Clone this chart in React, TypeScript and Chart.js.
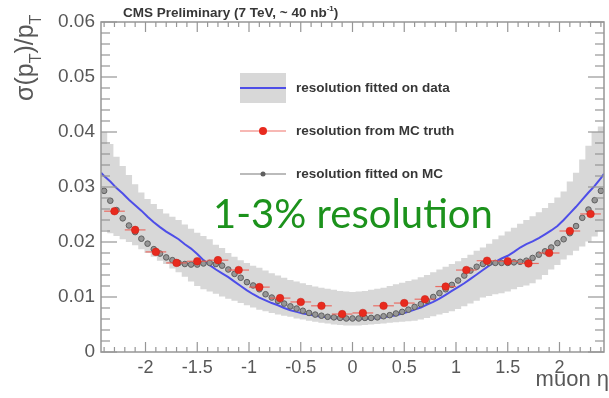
import React, { useEffect, useRef } from "react";
import { Chart, registerables } from "chart.js";

Chart.register(...registerables);

// pseudorapidity range of the frame and binning of the fitted curves
const ETA_MIN = -2.43;
const ETA_MAX = 2.43;
const ETA_STEP = 0.06;
const etaBins: number[] = Array.from({ length: 81 }, (_, i) => +(-2.4 + ETA_STEP * i).toFixed(2));

// resolution fitted on data: upper / lower edge of the uncertainty band
const dataBandHigh = [
  0.0400, 0.0378, 0.0355, 0.0338, 0.0322, 0.0305, 0.0290, 0.0278, 0.0269, 0.0260,
  0.0252, 0.0246, 0.0240, 0.0232, 0.0224, 0.0217, 0.0211, 0.0205, 0.0195, 0.0189,
  0.0180, 0.0173, 0.0167, 0.0162, 0.0157, 0.0153, 0.0148, 0.0143, 0.0139, 0.0135,
  0.0131, 0.0128, 0.0125, 0.0122, 0.0119, 0.0117, 0.0115, 0.0113, 0.0111, 0.0110,
  0.0109,
  0.0110, 0.0111, 0.0113, 0.0115, 0.0117, 0.0120, 0.0123, 0.0126, 0.0129, 0.0132,
  0.0136, 0.0140, 0.0145, 0.0150, 0.0155, 0.0160, 0.0165, 0.0171, 0.0177, 0.0184,
  0.0190, 0.0197, 0.0205, 0.0212, 0.0219, 0.0226, 0.0233, 0.0240, 0.0247, 0.0254,
  0.0262, 0.0271, 0.0281, 0.0292, 0.0310, 0.0326, 0.0350, 0.0375, 0.0400, 0.0410,
];
const dataBandLow = [
  0.0222, 0.0216, 0.0211, 0.0205, 0.0200, 0.0194, 0.0187, 0.0180, 0.0173, 0.0166,
  0.0160, 0.0152, 0.0145, 0.0137, 0.0128, 0.0120, 0.0114, 0.0110, 0.0106, 0.0101,
  0.0097, 0.0093, 0.0089, 0.0085, 0.0081, 0.0077, 0.0074, 0.0071, 0.0068, 0.0066,
  0.0064, 0.0061, 0.0059, 0.0057, 0.0055, 0.0053, 0.0052, 0.0050, 0.0049, 0.0048,
  0.0048,
  0.0048, 0.0049, 0.0050, 0.0051, 0.0052, 0.0053, 0.0054, 0.0055, 0.0056, 0.0057,
  0.0059, 0.0062, 0.0065, 0.0068, 0.0071, 0.0074, 0.0078, 0.0083, 0.0088, 0.0093,
  0.0099, 0.0102, 0.0105, 0.0107, 0.0110, 0.0114, 0.0118, 0.0121, 0.0125, 0.0132,
  0.0140, 0.0150, 0.0158, 0.0168, 0.0176, 0.0184, 0.0192, 0.0201, 0.0210, 0.0220,
];

// resolution fitted on data: central curve (plus its values at the frame edges)
const dataFit = [
  0.0320, 0.0310, 0.0298, 0.0288, 0.0277, 0.0267, 0.0257, 0.0246, 0.0236, 0.0227,
  0.0219, 0.0212, 0.0205, 0.0196, 0.0188, 0.0178, 0.0167, 0.0158, 0.0150, 0.0143,
  0.0136, 0.0128, 0.0120, 0.0112, 0.0105, 0.0099, 0.0094, 0.0089, 0.0085, 0.0080,
  0.0076, 0.0073, 0.0070, 0.0068, 0.0066, 0.0064, 0.0063, 0.0062, 0.0061, 0.0060,
  0.0060,
  0.0060, 0.0060, 0.0061, 0.0062, 0.0063, 0.0065, 0.0067, 0.0070, 0.0073, 0.0077,
  0.0081, 0.0086, 0.0091, 0.0097, 0.0104, 0.0111, 0.0118, 0.0125, 0.0133, 0.0141,
  0.0149, 0.0157, 0.0164, 0.0170, 0.0175, 0.0182, 0.0190, 0.0196, 0.0201, 0.0207,
  0.0214, 0.0221, 0.0229, 0.0240, 0.0252, 0.0264, 0.0277, 0.0290, 0.0302, 0.0316,
];
const dataFitEdges = [0.0326, 0.0324];

// resolution fitted on MC
const mcFit = [
  0.0293, 0.0275, 0.0258, 0.0243, 0.0230, 0.0218, 0.0206, 0.0197, 0.0187, 0.0179,
  0.0172, 0.0167, 0.0162, 0.0160, 0.0159, 0.0159, 0.0161, 0.0162, 0.0160, 0.0157,
  0.0150, 0.0142, 0.0135, 0.0127, 0.0121, 0.0114, 0.0105, 0.0099, 0.0093, 0.0088,
  0.0083, 0.0079, 0.0075, 0.0071, 0.0068, 0.0066, 0.0064, 0.0063, 0.0062, 0.0061,
  0.0061,
  0.0061, 0.0062, 0.0062, 0.0063, 0.0065, 0.0067, 0.0070, 0.0073, 0.0077, 0.0082,
  0.0087, 0.0093, 0.0100, 0.0107, 0.0114, 0.0122, 0.0130, 0.0139, 0.0148, 0.0155,
  0.0160, 0.0162, 0.0162, 0.0162, 0.0162, 0.0163, 0.0164, 0.0166, 0.0171, 0.0177,
  0.0183, 0.0190, 0.0198, 0.0205, 0.0216, 0.0229, 0.0244, 0.0259, 0.0276, 0.0293,
];

// resolution from MC truth, in eta slices of width 0.2
const truthEta = [
  -2.3, -2.1, -1.9, -1.7, -1.5, -1.3, -1.1, -0.9, -0.7, -0.5, -0.3, -0.1,
  0.1, 0.3, 0.5, 0.7, 0.9, 1.1, 1.3, 1.5, 1.7, 1.9, 2.1, 2.3,
];
const truthRes = [
  0.0256, 0.0222, 0.0182, 0.0162, 0.0165, 0.0167, 0.0149, 0.0118, 0.0098, 0.0091, 0.0084, 0.0069,
  0.0071, 0.0084, 0.0089, 0.0096, 0.0119, 0.0149, 0.0166, 0.0165, 0.0161, 0.0180, 0.0220, 0.0251,
];
const truthHalfWidth = 0.1;

const xTickLabels = ["-2", "-1.5", "-1", "-0.5", "0", "0.5", "1", "1.5", "2"];
const yTickLabels = ["0", "0.01", "0.02", "0.03", "0.04", "0.05", "0.06"];
const legendLabels = ["resolution fitted on data", "resolution from MC truth", "resolution fitted on MC"];

const BAND = "rgb(216,216,216)";
const BLUE = "rgb(78,78,232)";
const RED = "rgb(232,42,30)";
const RED_BAR = "rgba(236,90,80,0.85)";
const GRAY_DOT = "rgb(150,150,150)";
const GRAY_EDGE = "rgb(95,95,95)";
const AXIS = "rgb(150,150,150)";
const LABEL = "rgb(88,88,88)";
const TEXT = "rgb(55,55,55)";
const GREEN = "rgb(28,146,28)";
const SANS = "'Liberation Sans', Arial, sans-serif";

function binOutline(centers: number[], values: number[]) {
  const pts: { x: number; y: number }[] = [];
  centers.forEach((c, i) => {
    pts.push({ x: c - ETA_STEP / 2, y: values[i] });
    pts.push({ x: c + ETA_STEP / 2, y: values[i] });
  });
  return pts;
}

const TRUTH_INDEX = 4;

const errorBars = {
  id: "errorBars",
  beforeDatasetDraw(chart: any, args: any) {
    if (args.index !== TRUTH_INDEX) return;
    const { ctx, scales } = chart;
    ctx.save();
    ctx.strokeStyle = RED_BAR;
    ctx.lineWidth = 1.2;
    truthEta.forEach((e, i) => {
      const py = scales.y.getPixelForValue(truthRes[i]);
      ctx.beginPath();
      ctx.moveTo(scales.x.getPixelForValue(e - truthHalfWidth), py);
      ctx.lineTo(scales.x.getPixelForValue(e + truthHalfWidth), py);
      ctx.stroke();
    });
    ctx.restore();
  },
};

function seg(ctx: CanvasRenderingContext2D, x1: number, y1: number, x2: number, y2: number) {
  ctx.beginPath();
  ctx.moveTo(x1, y1);
  ctx.lineTo(x2, y2);
  ctx.stroke();
}

const decorations = {
  id: "decorations",
  afterDatasetsDraw(chart: any) {
    const { ctx, chartArea: a, scales } = chart;
    const xs = scales.x;
    const ys = scales.y;
    ctx.save();

    // frame with inward ticks on all four sides
    ctx.strokeStyle = AXIS;
    ctx.lineWidth = 1.5;
    ctx.strokeRect(a.left, a.top, a.right - a.left, a.bottom - a.top);
    ctx.lineWidth = 1.2;
    for (let k = 0; k <= 30; k++) {
      const py = ys.getPixelForValue(k * 0.002);
      const len = k % 5 === 0 ? 16 : 9;
      seg(ctx, a.left, py, a.left + len, py);
      seg(ctx, a.right, py, a.right - len, py);
    }
    for (let k = -24; k <= 24; k++) {
      const px = xs.getPixelForValue(k / 10);
      const len = k % 5 === 0 ? 10 : 5;
      seg(ctx, px, a.bottom, px, a.bottom - len);
      seg(ctx, px, a.top, px, a.top + len);
    }

    // tick labels
    ctx.fillStyle = LABEL;
    ctx.font = `19px ${SANS}`;
    ctx.textAlign = "right";
    ctx.textBaseline = "middle";
    yTickLabels.forEach((t) => ctx.fillText(t, a.left - 6, ys.getPixelForValue(parseFloat(t))));
    ctx.font = `18px ${SANS}`;
    ctx.textAlign = "center";
    ctx.textBaseline = "top";
    xTickLabels.forEach((t) => ctx.fillText(t, xs.getPixelForValue(parseFloat(t)), a.bottom + 7));

    // axis titles
    ctx.textAlign = "right";
    ctx.textBaseline = "alphabetic";
    ctx.font = `22px ${SANS}`;
    ctx.fillStyle = LABEL;
    ctx.fillText("muon η", 609, 386);

    ctx.save();
    ctx.translate(33, 101);
    ctx.rotate(-Math.PI / 2);
    ctx.textAlign = "left";
    let cx = 0;
    const part = (s: string, size: number, dy: number) => {
      ctx.font = `${size}px ${SANS}`;
      ctx.fillText(s, cx, dy);
      cx += ctx.measureText(s).width;
    };
    part("σ(p", 25, 0);
    part("T", 16, 8);
    part(")/p", 25, 0);
    part("T", 16, 8);
    ctx.restore();

    // header
    ctx.fillStyle = TEXT;
    ctx.textAlign = "left";
    ctx.font = `bold 13.5px ${SANS}`;
    const head = "CMS Preliminary (7 TeV, ~ 40 nb";
    ctx.fillText(head, 123, 17);
    let hx = 123 + ctx.measureText(head).width;
    ctx.font = `bold 8px ${SANS}`;
    ctx.fillText("-1", hx, 11);
    hx += ctx.measureText("-1").width;
    ctx.font = `bold 13.5px ${SANS}`;
    ctx.fillText(")", hx, 17);

    // legend
    const lx1 = 240;
    const lx2 = 286;
    const lmid = (lx1 + lx2) / 2;
    const rows = [88, 131, 174];
    ctx.fillStyle = BAND;
    ctx.fillRect(lx1, 73, lx2 - lx1, 30);
    ctx.strokeStyle = BLUE;
    ctx.lineWidth = 2;
    seg(ctx, lx1, rows[0], lx2, rows[0]);
    ctx.strokeStyle = RED_BAR;
    ctx.lineWidth = 1.2;
    seg(ctx, lx1, rows[1], lx2, rows[1]);
    ctx.fillStyle = RED;
    ctx.beginPath();
    ctx.arc(lmid, rows[1], 4, 0, Math.PI * 2);
    ctx.fill();
    ctx.strokeStyle = "rgb(120,120,120)";
    seg(ctx, lx1, rows[2], lx2, rows[2]);
    ctx.fillStyle = GRAY_EDGE;
    ctx.beginPath();
    ctx.arc(lmid, rows[2], 2.5, 0, Math.PI * 2);
    ctx.fill();

    ctx.fillStyle = TEXT;
    ctx.font = `bold 13.5px ${SANS}`;
    ctx.textBaseline = "middle";
    legendLabels.forEach((t, i) => ctx.fillText(t, 296, rows[i]));

    // annotation
    ctx.textBaseline = "alphabetic";
    ctx.fillStyle = GREEN;
    ctx.font = `40px Lato, 'Open Sans', sans-serif`;
    ctx.fillText("1-3% resolution", 213, 228);

    ctx.restore();
  },
};

export default function App() {
  const ref = useRef<HTMLCanvasElement | null>(null);

  useEffect(() => {
    if (!ref.current) return;
    const chart = new Chart(ref.current, {
      type: "scatter",
      data: {
        datasets: [
          {
            data: binOutline(etaBins, dataBandHigh),
            showLine: true,
            pointRadius: 0,
            borderColor: "rgba(0,0,0,0)",
            backgroundColor: BAND,
            fill: "+1",
            order: 5,
          },
          {
            data: binOutline(etaBins, dataBandLow),
            showLine: true,
            pointRadius: 0,
            borderColor: "rgba(0,0,0,0)",
            fill: false,
            order: 5,
          },
          {
            data: [
              { x: ETA_MIN, y: dataFitEdges[0] },
              ...etaBins.map((e, i) => ({ x: e, y: dataFit[i] })),
              { x: ETA_MAX, y: dataFitEdges[1] },
            ],
            showLine: true,
            pointRadius: 0,
            borderColor: BLUE,
            borderWidth: 2,
            fill: false,
            order: 3,
          },
          {
            data: etaBins.map((e, i) => ({ x: e, y: mcFit[i] })),
            showLine: false,
            pointRadius: 2.8,
            backgroundColor: GRAY_DOT,
            borderColor: GRAY_EDGE,
            borderWidth: 1,
            order: 2,
          },
          {
            data: truthEta.map((e, i) => ({ x: e, y: truthRes[i] })),
            showLine: false,
            pointRadius: 3.8,
            backgroundColor: RED,
            borderColor: "rgb(200,30,20)",
            borderWidth: 0.5,
            order: 1,
          },
        ],
      },
      options: {
        animation: false,
        responsive: false,
        devicePixelRatio: 1,
        layout: { padding: { left: 101, right: 1, top: 22, bottom: 46 } },
        plugins: { legend: { display: false }, tooltip: { enabled: false } },
        scales: {
          x: { type: "linear", min: ETA_MIN, max: ETA_MAX, display: false },
          y: { type: "linear", min: 0, max: 0.06, display: false },
        },
      },
      plugins: [errorBars, decorations],
    });
    return () => chart.destroy();
  }, []);

  return (
    <div style={{ position: "absolute", left: 0, top: 0, width: 609, height: 398, background: "#fff" }}>
      <canvas ref={ref} width={609} height={398} style={{ display: "block" }} />
    </div>
  );
}
